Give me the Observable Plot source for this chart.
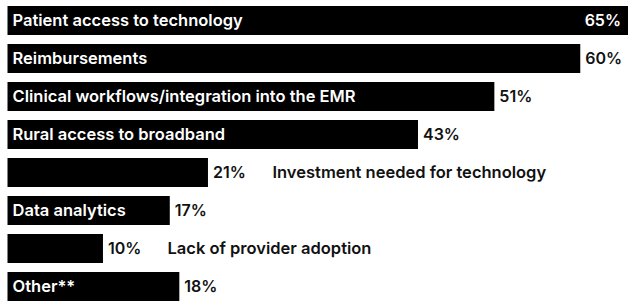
<!DOCTYPE html>
<html>
<head>
<meta charset="utf-8">
<script src="https://cdn.jsdelivr.net/npm/d3@7"></script>
<script src="https://cdn.jsdelivr.net/npm/@observablehq/plot@0.6"></script>
<style>
  html, body { margin: 0; padding: 0; background: #fff; overflow: hidden; }
  #chart svg { display: block; }
</style>
</head>
<body>
<div id="chart"></div>
<script>
const categories = [
  "Patient access to technology",
  "Reimbursements",
  "Clinical workflows/integration into the EMR",
  "Rural access to broadband",
  "Investment needed for technology",
  "Data analytics",
  "Lack of provider adoption",
  "Other**"
];
const values = [65, 60, 51, 43, 21, 17, 10, 18];
const valueLabels = ["65%", "60%", "51%", "43%", "21%", "17%", "10%", "18%"];

const FONT = "Inter";
const SIZE = 16.5;
const VSIZE = 16;
const WEIGHT = 600;
const W = 628, H = 301, ML = 7.5, MR = 0;
const xMax = d3.max(values);
const pxPerUnit = (W - ML - MR) / xMax;

const ctx = document.createElement("canvas").getContext("2d");
ctx.font = `${WEIGHT} ${SIZE}px ${FONT}`;
const measure = s => ctx.measureText(s).width;

const data = categories.map((c, i) => ({
  category: c,
  value: values[i],
  label: valueLabels[i]
}));
data.forEach(d => {
  d.inside = measure(d.category) + 12 < d.value * pxPerUnit;
  d.valueInside = d.value === xMax;
});

const chart = Plot.plot({
  width: W,
  height: H,
  marginTop: 6,
  marginBottom: 0,
  marginLeft: ML,
  marginRight: MR,
  style: { fontFamily: FONT, fontSize: SIZE + "px", background: "#fff" },
  x: { domain: [0, xMax], axis: null },
  y: { domain: categories, axis: null, paddingInner: 0.24, paddingOuter: 0 },
  marks: [
    Plot.barX(data, { x: "value", y: "category", fill: "#000" }),
    Plot.text(data.filter(d => d.inside), {
      y: "category", text: "category", frameAnchor: "left", textAnchor: "start",
      dx: 4.5, fill: "#fff", fontWeight: WEIGHT, fontSize: SIZE
    }),
    Plot.text(data.filter(d => d.valueInside), {
      x: "value", y: "category", text: "label", textAnchor: "end",
      dx: -7.5, fill: "#fff", fontWeight: WEIGHT, fontSize: VSIZE
    }),
    Plot.text(data.filter(d => !d.valueInside), {
      x: "value", y: "category", text: "label", textAnchor: "start",
      dx: 4.5, fill: "#111", fontWeight: WEIGHT, fontSize: VSIZE
    }),
    Plot.text(data.filter(d => !d.inside), {
      x: "value", y: "category", text: "category", textAnchor: "start",
      dx: 64, fill: "#111", fontWeight: WEIGHT, fontSize: SIZE
    })
  ]
});
document.getElementById("chart").appendChild(chart);
</script>
</body>
</html>
